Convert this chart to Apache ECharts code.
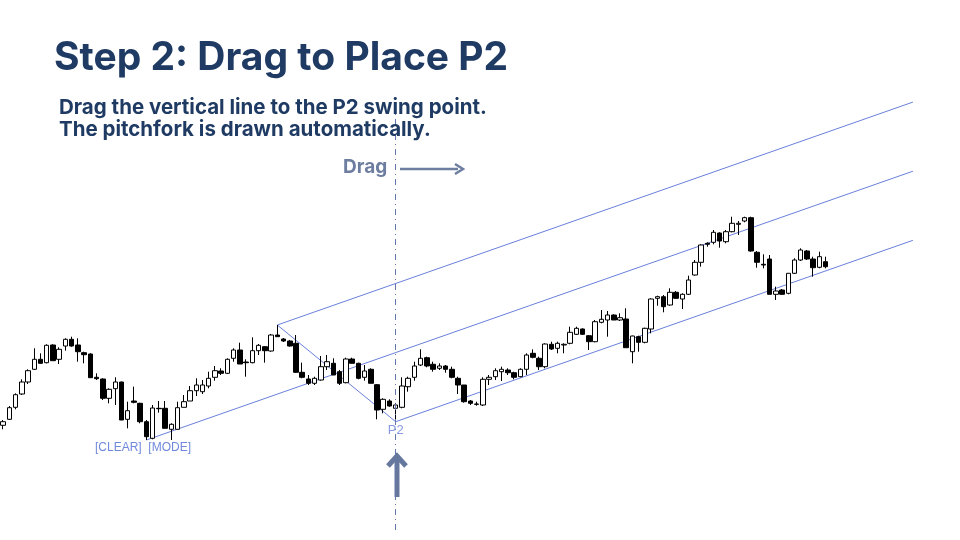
<!DOCTYPE html>
<html>
<head>
<meta charset="utf-8">
<script src="https://cdn.jsdelivr.net/npm/echarts@6/dist/echarts.min.js"></script>
<style>
  html, body { margin: 0; padding: 0; background: #fff; }
  #chart { width: 960px; height: 540px; }
</style>
</head>
<body>
<div id="chart"></div>
<script>
// OHLC, one entry per candle
var opens = [114.7,120.7,132.7,146,158,170.7,180.7,177.3,195,180.7,194,200.7,195,187.3,186,162.7,161,141.7,151.3,158,
  120.7,139,136.7,118.3,101.7,131.7,131.7,110.7,110.7,132.7,139,149.3,148.3,154,162.7,169,166.7,181.7,190,178,
  177.3,189.3,193.3,189,205,201,199,196.7,167.7,161,156.7,160,173.3,176.7,168.3,157.3,181,176.7,162.7,170.7,
  155.3,130.7,139,131.7,132.7,153.3,162.7,175,182.3,175.7,171.7,174,170.7,161.7,155,139,136,135,160.7,163.3,
  168.3,170,167.3,163.3,170.7,186.7,181.7,173.3,195.7,191.7,195,196.7,205.7,211,204.3,198.3,217.7,220,225,220,
  221,188.3,203.3,197.7,211,241.7,243.3,235,247.7,241,245.7,265,277.7,296.7,297.7,307,298.3,308.3,315.7,319,
  322.3,287.7,275.7,281,245.7,250,246.7,266.7,280,289,281,272.7,278.3];
var closes = [118.3,132.3,145.3,158,169.3,180.7,176.7,194.7,179.3,190.7,200.7,194,188.3,185.3,162.3,161.3,141.7,150.7,158,120,
  129.3,137.7,118.3,103.3,132,131.3,111.7,115.7,132.3,138.3,149.3,155,155,161.7,169.3,166.7,180.7,190,176,177.3,
  189.3,194.7,189.3,205,203.3,199,194,167.7,162.7,156.7,161.7,173.3,178.3,165,156.7,181,176.7,161.7,169,156.7,
  130,140.7,134,135,154,161.7,174,181.7,174,170.7,174,170.7,162.7,155,138.3,136.7,135.7,160.7,162.7,169.3,
  170.7,167.3,162.7,170.7,185,182.7,173.3,196,191,196.7,195.7,207.7,211.7,205.7,198.3,218.3,220.7,225,220,222.3,
  192.3,204,197.7,211.7,241,243.3,233.3,247.7,241.7,245.7,260,277.7,295,295.7,307.7,299,308.3,316.7,316.7,322.3,
  289,277.7,275,245.7,249,245.7,266.7,280,290,281,272.3,283.3,273.3];
var lows = [110.7,120,130.7,145,156,170,176.3,176.7,179.3,176,189.3,193.3,178.3,176.7,162.3,160,140,136.7,135,120,
  111.7,136.7,116.7,100,100.7,127.3,111.7,100,110.7,132.7,139,144,146,151.7,159.3,165,166,178.3,176,163.3,
  176.7,185,177.3,188.3,203.3,198,193.3,167.3,161.7,155,155,159.3,170,165,155,156.7,176.7,160.7,159.3,156.7,
  120.7,126.7,133.3,118.3,131.7,148.3,159.3,174,172.7,168.3,170,167.3,161.7,146,137.3,135,134.3,134,155,160,
  159,165,160.7,162.7,165,181.7,170,171.7,190,186.7,186.7,195.7,205,205,190,197.7,216.7,203.3,220,219,
  192.3,176.7,188.3,196.7,206.7,234.3,227.7,234.3,241,231,245,264.3,273.3,293.3,295.7,292.3,296.7,307.7,305,317.7,
  288.3,272.3,271.7,245.7,240,245,245.7,266,279,280,263.3,271.7,271.7];
var highs = [120,134,146.7,160.7,170.7,191.7,186.7,195.7,195.7,192.7,201.7,203.3,201.7,188.3,186.7,166.7,161.7,151.7,162.7,158.3,
  138.3,153.3,137.3,120,135,139,139,116.7,138.3,145,154,161.7,160,168.3,174,171.7,181.7,191.7,197.3,180.7,
  202.7,196,194,206,215,202,200,205,177.3,165,163.3,184,185,181.7,170,182.3,182.3,177.3,175,171.7,
  156,141.7,140.7,136.7,162.7,163.3,178.3,190.7,183.3,178.3,176.7,175,173.3,163.3,155,140,138.3,162.7,165,171.7,
  173.3,171.7,168.3,171.7,186.7,190.7,183.3,196.7,198.3,198.3,196.7,213.3,213.3,211.7,205,220,230,229,225.7,226.7,
  231.7,204.3,204.3,212.3,241.7,244.3,245,251.7,249,246.7,264.3,280,295.7,297.7,310,307.7,310,323.3,319,323.3,
  323.3,289,285.7,285,253.3,251,266.7,281.7,291.7,290,283.3,288.3,283.3];

// pitchfork pivots (candle index) and how far the tines run
var p0Index = 23;   // anchor low
var p1Index = 44;   // P1 high
var p2Index = 63;   // P2 low
var extraSlots = 14;

var total = opens.length + extraSlots;
var categories = [];
var candles = [];
for (var i = 0; i < total; i++) {
    categories.push(String(i + 1));
    if (i < opens.length) {
        candles.push([opens[i], closes[i], lows[i], highs[i]]);
    } else {
        candles.push('-');
    }
}

var p0 = lows[p0Index], p1 = highs[p1Index], p2 = lows[p2Index];
var midX = (p1Index + p2Index) / 2, midY = (p1 + p2) / 2;
var slope = (midY - p0) / (midX - p0Index);
var endIndex = total - 1;

function seg(i1, v1, i2, v2) {
    var arr = [];
    for (var k = 0; k < total; k++) arr.push(null);
    arr[i1] = v1;
    arr[i2] = v2;
    return arr;
}

var forkColor = '#6a80dc';
function forkLine(data) {
    return {
        type: 'line',
        data: data,
        connectNulls: true,
        symbol: 'none',
        silent: true,
        lineStyle: { color: forkColor, width: 1 },
        z: 1
    };
}

var chart = echarts.init(document.getElementById('chart'));

var option = {
    backgroundColor: '#ffffff',
    animation: false,
    title: [{
        text: 'Step 2: Drag to Place P2',
        left: 49,
        top: 34,
        textStyle: { fontFamily: 'Inter', fontWeight: 700, fontSize: 39, color: '#1f3b64' }
    }, {
        text: 'Drag the vertical line to the P2 swing point.\nThe pitchfork is drawn automatically.',
        left: 54,
        top: 92,
        textStyle: { fontFamily: 'Inter', fontWeight: 700, fontSize: 20.5, lineHeight: 22, color: '#1f3b64' }
    }],
    grid: { left: 0, right: 44, top: 100, bottom: 10 },
    xAxis: {
        type: 'category',
        data: categories,
        show: false
    },
    yAxis: {
        type: 'value',
        min: 10,
        max: 440,
        show: false
    },
    series: [
        {
            type: 'candlestick',
            data: candles,
            barWidth: 5,
            z: 3,
            itemStyle: {
                color: '#ffffff',
                color0: '#000000',
                borderColor: '#000000',
                borderColor0: '#000000',
                borderWidth: 1
            },
            markLine: {
                silent: true,
                symbol: 'none',
                label: { show: false },
                lineStyle: { color: '#6277ae', width: 1, type: [6, 4, 1, 4] },
                data: [{ xAxis: p2Index }]
            }
        },
        forkLine(seg(p0Index, p0, endIndex, p0 + slope * (endIndex - p0Index))),
        forkLine(seg(p1Index, p1, endIndex, p1 + slope * (endIndex - p1Index))),
        forkLine(seg(p2Index, p2, endIndex, p2 + slope * (endIndex - p2Index))),
        forkLine(seg(p1Index, p1, p2Index, p2)),
        {
            type: 'scatter',
            data: [[p2Index, p2]],
            symbolSize: 1,
            itemStyle: { color: forkColor },
            label: {
                show: true,
                position: 'bottom',
                distance: 2,
                formatter: 'P2',
                color: '#6a80dc',
                fontSize: 13,
                fontFamily: 'Liberation Sans'
            }
        }
    ],
    graphic: [
        {
            type: 'text',
            left: 95,
            top: 442,
            style: { text: '[CLEAR]  [MODE]', fill: '#7089dc', font: '12px "Liberation Sans"' }
        },
        {
            type: 'text',
            left: 343,
            top: 158,
            style: { text: 'Drag', fill: '#6e7ea0', font: 'bold 19px Inter' }
        },
        {
            type: 'line',
            shape: { x1: 400, y1: 169, x2: 458, y2: 169 },
            style: { stroke: '#6e7ea0', lineWidth: 2.5 }
        },
        {
            type: 'polyline',
            shape: { points: [[455, 164], [463, 169], [455, 174]] },
            style: { stroke: '#6e7ea0', lineWidth: 2.5, fill: null }
        },
        {
            type: 'line',
            shape: { x1: 397, y1: 497, x2: 397, y2: 458 },
            style: { stroke: '#66779e', lineWidth: 5 }
        },
        {
            type: 'polyline',
            shape: { points: [[388, 466], [397, 456], [406, 466]] },
            style: { stroke: '#66779e', lineWidth: 5, fill: null }
        }
    ]
};

chart.setOption(option);
</script>
</body>
</html>
